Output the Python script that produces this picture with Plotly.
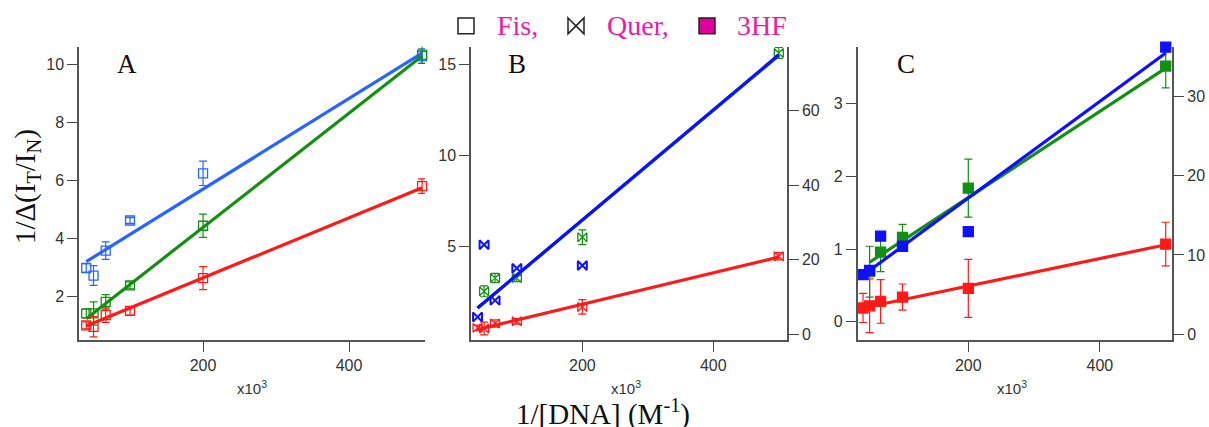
import plotly.graph_objects as go

# ---------------- data ----------------
x_dna = [40, 50, 66.7, 100, 200, 500]
fit_x = [40, 500]
fit_x_c_green = [50, 500]

# Panel A (Fis, open squares)
A_blue = [2.98, 2.72, 3.58, 4.62, 6.25, 10.3]
A_blue_err = [0.15, 0.34, 0.3, 0.1, 0.42, 0.25]
A_green = [1.41, 1.41, 1.81, 2.38, 4.44, 10.35]
A_green_err = [0.15, 0.4, 0.25, 0.12, 0.4, 0.3]
A_red = [1.0, 0.95, 1.35, 1.5, 2.63, 5.81]
A_red_err = [0.12, 0.35, 0.25, 0.15, 0.4, 0.25]
A_fit_blue = [3.2, 10.4]
A_fit_green = [1.23, 10.3]
A_fit_red = [0.98, 5.75]

# Panel B (Quer, bowties)
B_blue = [1.13, 5.1, 2.04, 3.81, 3.96, 16.0]
B_green = [None, 2.54, 3.27, 3.27, 5.51, 15.64]
B_green_err = [0, 0.3, 0.25, 0.2, 0.4, 0.3]
B_red = [0.53, 0.49, 0.77, 0.89, 1.68, 4.47]
B_red_err = [0.15, 0.35, 0.2, 0.15, 0.4, 0.2]
B_fit_blue = [1.62, 15.54]
B_fit_green = [1.62, 15.5]
B_fit_red = [0.44, 4.42]

# Panel C (3HF, filled squares)
C_blue = [0.648, 0.707, 1.18, 1.04, 1.24, 3.78]
C_green = [None, 0.69, 0.96, 1.16, 1.84, 3.52]
C_green_err = [0, 0.35, 0.27, 0.18, 0.4, 0.3]
C_red = [0.19, 0.22, 0.28, 0.34, 0.46, 1.07]
C_red_err = [0.2, 0.37, 0.3, 0.18, 0.4, 0.3]
C_fit_blue = [0.64, 3.70]
C_fit_green = [0.82, 3.49]
C_fit_red = [0.19, 1.06]

x_ticks = [200, 400]
A_yticks = [2, 4, 6, 8, 10]
B_yticks = [5, 10, 15]
B_y2ticks = [0, 20, 40, 60]
C_yticks = [0, 1, 2, 3]
C_y2ticks = [0, 10, 20, 30]

legend_names = ["Fis,", "Quer,", "3HF"]
panel_labels = ["A", "B", "C"]

# ---------------- styling ----------------
W, H = 1209, 427
BLUE_A = "#2a64ff"
BLUE = "#1010ff"
GREEN = "#138f13"
RED = "#ff1a1a"
MAGENTA = "#ee1aa6"
SERIF = "Liberation Serif, Times New Roman, serif"
SANS = "Liberation Sans, Arial, sans-serif"


def px(x):
    return x / W


def py(y):
    return 1 - y / H


fig = go.Figure()


def add_points(xa, ya, xs, ys, color, symbol, size, err=None, lw=1.3):
    kw = {}
    if err is not None:
        kw["error_y"] = dict(type="data", array=err, visible=True, color=color,
                             thickness=1.2, width=4)
    fig.add_trace(go.Scatter(x=xs, y=ys, mode="markers", xaxis=xa, yaxis=ya,
                             marker=dict(symbol=symbol, size=size, color=color,
                                         line=dict(color=color, width=lw)),
                             cliponaxis=False, showlegend=False, **kw))


def add_fit(xa, ya, xs, ys, color):
    fig.add_trace(go.Scatter(x=xs, y=ys, mode="lines", xaxis=xa, yaxis=ya,
                             line=dict(color=color, width=3.2),
                             cliponaxis=False, showlegend=False))


# Panel A
add_fit("x", "y", fit_x, A_fit_blue, BLUE_A)
add_fit("x", "y", fit_x, A_fit_green, GREEN)
add_fit("x", "y", fit_x, A_fit_red, RED)
add_points("x", "y", x_dna, A_blue, BLUE_A, "square-open", 9, A_blue_err)
add_points("x", "y", x_dna, A_green, GREEN, "square-open", 9, A_green_err)
add_points("x", "y", x_dna, A_red, RED, "square-open", 9, A_red_err)

# Panel B
add_points("x2", "y2", x_dna, B_green, GREEN, "bowtie-open", 9, B_green_err)
add_points("x2", "y2", x_dna, B_red, RED, "bowtie-open", 9, B_red_err)
add_fit("x2", "y2", fit_x, B_fit_green, GREEN)
add_fit("x2", "y2", fit_x, B_fit_red, RED)
add_fit("x2", "y2", fit_x, B_fit_blue, BLUE)
add_points("x2", "y2", x_dna, B_blue, BLUE, "bowtie-open", 9, None, lw=2)

# Panel C
add_fit("x3", "y4", fit_x_c_green, C_fit_green, GREEN)
add_fit("x3", "y4", fit_x, C_fit_red, RED)
add_points("x3", "y4", x_dna, C_green, GREEN, "square", 10, C_green_err)
add_points("x3", "y4", x_dna, C_red, RED, "square", 10, C_red_err)
add_fit("x3", "y4", fit_x, C_fit_blue, BLUE)
add_points("x3", "y4", x_dna, C_blue, BLUE, "square", 10, None)

# empty traces so the right-hand axes are drawn
for ya in ["y3", "y5"]:
    fig.add_trace(go.Scatter(x=[None], y=[None], mode="markers",
                             xaxis="x2" if ya == "y3" else "x3", yaxis=ya,
                             showlegend=False, hoverinfo="skip"))

axis_common = dict(showline=True, linecolor="#555555", linewidth=1.5, ticks="outside",
                   ticklen=10, tickcolor="#444444", tickwidth=1.2, showgrid=False,
                   zeroline=False, tickfont=dict(family=SANS, size=16, color="#333333"),
                   tickmode="array")

ydom = [py(342), py(47)]

fig.update_layout(
    width=W, height=H, margin=dict(l=0, r=0, t=0, b=0),
    paper_bgcolor="white", plot_bgcolor="white", showlegend=False,
    xaxis=dict(domain=[px(79), px(425)], range=[30.1, 504], anchor="y",
               tickvals=x_ticks, **axis_common),
    yaxis=dict(domain=ydom, range=[0.48, 10.62], anchor="x",
               tickvals=A_yticks, **axis_common),
    xaxis2=dict(domain=[px(471), px(787)], range=[30, 512.5], anchor="y2",
                tickvals=x_ticks, **axis_common),
    yaxis2=dict(domain=ydom, range=[-0.16, 15.98], anchor="x2",
                tickvals=B_yticks, **axis_common),
    yaxis3=dict(range=[-1.68, 77.1], anchor="x2", overlaying="y2", side="right",
                tickvals=B_y2ticks, **axis_common),
    xaxis3=dict(domain=[px(857.5), px(1172.3)], range=[31.6, 510], anchor="y4",
                tickvals=x_ticks, **axis_common),
    yaxis4=dict(domain=ydom, range=[-0.256, 3.785], anchor="x3",
                tickvals=C_yticks, **axis_common),
    yaxis5=dict(range=[-0.79, 36.27], anchor="x3", overlaying="y4", side="right",
                tickvals=C_y2ticks, **axis_common),
)

annotations = []
# panel letters
for lab, cx in zip(panel_labels, [127, 517, 906]):
    annotations.append(dict(text=lab, x=px(cx), y=py(64), xref="paper", yref="paper",
                            showarrow=False, xanchor="center", yanchor="middle",
                            font=dict(family=SERIF, size=27, color="#111111")))
# x10^3
for cx in [252, 626, 1012]:
    annotations.append(dict(text="x10<sup>3</sup>", x=px(cx), y=py(389), xref="paper",
                            yref="paper", showarrow=False, xanchor="center",
                            yanchor="middle",
                            font=dict(family=SANS, size=15, color="#333333")))
# axis titles
annotations.append(dict(text="1/Δ(I<sub>T</sub>/I<sub>N</sub>)", x=px(27), y=py(188),
                        xref="paper", yref="paper", showarrow=False, textangle=-90,
                        xanchor="center", yanchor="middle",
                        font=dict(family=SERIF, size=29, color="#111111")))
annotations.append(dict(text="1/[DNA] (M<sup>-1</sup>)", x=px(603), y=py(414),
                        xref="paper", yref="paper", showarrow=False,
                        xanchor="center", yanchor="middle",
                        font=dict(family=SERIF, size=29, color="#111111")))
# legend texts
for name, lx in zip(legend_names, [495, 605, 735]):
    annotations.append(dict(text=name, x=px(lx), y=py(26), xref="paper", yref="paper",
                            showarrow=False, xanchor="left", yanchor="middle",
                            font=dict(family=SERIF, size=28, color=MAGENTA)))
fig.update_layout(annotations=annotations)

# legend symbols
shapes = [
    dict(type="rect", xref="paper", yref="paper", x0=px(458), x1=px(474),
         y0=py(34), y1=py(18), line=dict(color="#222222", width=1.5),
         fillcolor="white"),
    dict(type="path", xref="paper", yref="paper",
         path=f"M {px(568)},{py(18)} L {px(584)},{py(34)} L {px(584)},{py(18)} "
              f"L {px(568)},{py(34)} Z",
         line=dict(color="#222222", width=1.5)),
    dict(type="rect", xref="paper", yref="paper", x0=px(699), x1=px(715),
         y0=py(34), y1=py(18), line=dict(color="#222222", width=1.5),
         fillcolor="#e0009a"),
]
fig.update_layout(shapes=shapes)

fig.write_html("out.html", config={"displayModeBar": False},
               post_script="document.body.style.margin='0';"
                           "document.body.style.overflow='hidden';")
